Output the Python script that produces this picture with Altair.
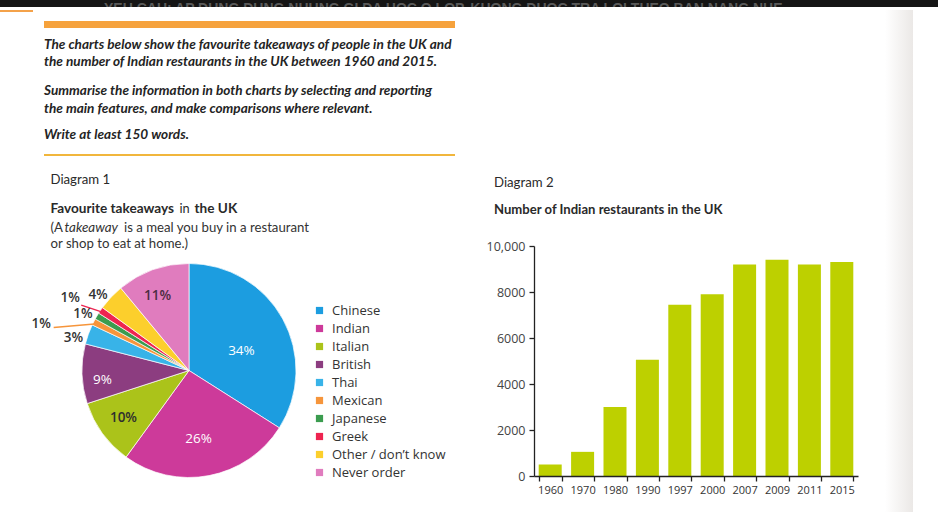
import altair as alt
import pandas as pd

# ---------------- data ----------------
takeaway_cats = ["Chinese", "Indian", "Italian", "British", "Thai", "Mexican",
                 "Japanese", "Greek", "Other / don’t know", "Never order"]
takeaway_share = [34, 26, 10, 9, 3, 1, 1, 1, 4, 11]
takeaway_colors = ["#1c9de0", "#cd3a9a", "#abc31a", "#8c3d80", "#38b3e8", "#f6953b",
                   "#3b9c4f", "#ee2450", "#fccf2c", "#e07cbe"]

years = ["1960", "1970", "1980", "1990", "1997", "2000", "2007", "2009", "2011", "2015"]
restaurants = [500, 1050, 3000, 5050, 7450, 7900, 9200, 9400, 9200, 9300]
y_ticks = [0, 2000, 4000, 6000, 8000, 10000]

# ---------------- layout (not data) ----------------
W, H = 938, 515
CX, CY, R = 189, 370.5, 107
# label radius, angular nudge (percent units), text colour, weight, leader gap
LABEL_LAYOUT = {
    "Chinese": (56, 2.3, "#ffffff", "normal", 0),
    "Indian": (69, 0.8, "#ffffff", "normal", 0),
    "Italian": (81, 0.0, "#2e2e2e", 600, 0),
    "British": (87, -1.25, "#ffffff", "normal", 0),
    "Thai": (120, -1.2, "#333333", 600, 0),
    "Mexican": (155, -2.6, "#333333", 600, 13),
    "Japanese": (120, -0.75, "#333333", 600, 0),
    "Greek": (139, -0.83, "#333333", 600, 13),
    "Other / don’t know": (118, -1.0, "#333333", 600, 0),
    "Never order": (81, -0.85, "#4a2c42", 600, 0),
}

pie_df = pd.DataFrame({
    "cat": takeaway_cats,
    "share": takeaway_share,
    "idx": list(range(len(takeaway_cats))),
})
pie_df["label"] = [f"{v}%" for v in takeaway_share]
pie_df["lr"] = [LABEL_LAYOUT[c][0] for c in takeaway_cats]
pie_df["nudge"] = [LABEL_LAYOUT[c][1] for c in takeaway_cats]
pie_df["lead"] = [LABEL_LAYOUT[c][4] for c in takeaway_cats]

bar_df = pd.DataFrame({"year": years, "count": restaurants})

HEAD_FONT = "Lato"
BODY_FONT = "Lato"


def txt(s, x, y, size=13.2, weight="normal", style="normal", color="#222222",
        font=BODY_FONT, align="left"):
    return alt.Chart().mark_text(
        text=s, align=align, baseline="alphabetic", font=font, fontSize=size,
        fontWeight=weight, fontStyle=style, color=color,
    ).encode(x=alt.value(x), y=alt.value(y))


def rect(x, x2, y, y2, color):
    return alt.Chart().mark_rect(color=color).encode(
        x=alt.value(x), x2=alt.value(x2), y=alt.value(y), y2=alt.value(y2))


layers = []

# top dark strip with cut-off banner text, then the page
layers.append(rect(0, W, 0, 8, "#151515"))
layers.append(txt("YEU CAU: AP DUNG DUNG NHUNG GI DA HOC O LOP, KHONG DUOC TRA LOI THEO BAN NANG NHE",
                  104, 12.5, size=14, weight="bold", color="#5a5a5a", font="Liberation Sans"))
layers.append(rect(0, W, 7, H, "#ffffff"))
layers.append(alt.Chart().mark_rect(color=alt.Gradient(
    gradient="linear", x1=0, x2=1, y1=0, y2=0,
    stops=[alt.GradientStop(color="#ffffff", offset=0),
           alt.GradientStop(color="#ebe8e6", offset=1)])).encode(
    x=alt.value(885), x2=alt.value(913), y=alt.value(10), y2=alt.value(512)))

# orange rules and header text
layers.append(rect(0, 33, 10, 12, "#f4a24a"))
layers.append(rect(44, 455, 21, 28, "#f6a23c"))
layers.append(rect(44, 455, 154, 156, "#f1b63c"))

head = dict(size=13.6, weight="bold", style="italic", color="#242424", font=HEAD_FONT)
layers.append(txt("The charts below show the favourite takeaways of people in the UK and", 44, 49, **head))
layers.append(txt("the number of Indian restaurants in the UK between 1960 and 2015.", 44, 65.5, **head))
layers.append(txt("Summarise the information in both charts by selecting and reporting", 44, 95, **head))
layers.append(txt("the main features, and make comparisons where relevant.", 44, 112.5, **head))
layers.append(txt("Write at least 150 words.", 44, 139, **head))

# diagram 1 titles
layers.append(txt("Diagram 1", 50.5, 184, color="#2a2a2a"))
layers.append(txt("Favourite takeaways", 50.5, 213, size=13.6, weight="bold", color="#2a2a2a"))
layers.append(txt("in", 179.5, 213, size=12.8, color="#2a2a2a"))
layers.append(txt("the UK", 194.5, 213, size=13.6, weight="bold", color="#2a2a2a"))
layers.append(txt("(A", 50.5, 231.5, color="#333333"))
layers.append(txt("takeaway", 64.5, 231.5, size=13.4, style="italic", color="#333333"))
layers.append(txt("is a meal you buy in a restaurant", 124, 231.5, color="#333333"))
layers.append(txt("or shop to eat at home.)", 50.5, 248, color="#333333"))

# diagram 2 titles
layers.append(txt("Diagram 2", 494, 187, color="#2a2a2a"))
layers.append(txt("Number of Indian restaurants in the UK", 494, 214, size=13.1, weight="bold",
                  color="#2a2a2a"))

# ---------------- pie ----------------
theta_scale = alt.Scale(domain=[0, 100])
pie = alt.Chart(pie_df).mark_arc(outerRadius=R, stroke="white", strokeWidth=0.7).encode(
    theta=alt.Theta("share:Q", stack=True, scale=theta_scale),
    color=alt.Color(
        "cat:N",
        sort=takeaway_cats,
        scale=alt.Scale(domain=takeaway_cats, range=takeaway_colors),
        legend=alt.Legend(
            orient="none", legendX=313, legendY=304, title=None,
            symbolType="square", symbolSize=52, symbolStrokeWidth=0, symbolOpacity=1,
            labelFont="Open Sans", labelFontSize=13, labelColor="#333333",
            rowPadding=4, labelOffset=6, padding=0,
        ),
    ),
    order=alt.Order("idx:Q"),
    x=alt.value(CX),
    y=alt.value(CY),
)
layers.append(pie)

lab_base = alt.Chart(pie_df).transform_window(
    cum="sum(share)", sort=[alt.SortField("idx", order="ascending")], frame=[None, 0]
).transform_calculate(
    midraw="datum.cum - datum.share / 2",
    mid="datum.cum - datum.share / 2 + datum.nudge",
)

# leader lines (drawn from slice to label, along the computed angles)
lead_colors = {"Mexican": "#f6953b", "Greek": "#ee2450"}
for cat, col in lead_colors.items():
    layers.append(
        lab_base.transform_filter(alt.datum.cat == cat).transform_calculate(
            a0="datum.midraw / 100 * 2 * PI",
            a1="datum.mid / 100 * 2 * PI",
            x0=f"{CX} + {R - 4} * sin(datum.a0)",
            y0=f"{CY} - {R - 4} * cos(datum.a0)",
            x1=f"{CX} + (datum.lr - datum.lead) * sin(datum.a1)",
            y1=f"{CY} - (datum.lr - datum.lead) * cos(datum.a1)",
        ).mark_rule(color=col, strokeWidth=1.4).encode(
            x=alt.X("x0:Q", scale=None, axis=None),
            y=alt.Y("y0:Q", scale=None, axis=None),
            x2="x1:Q",
            y2="y1:Q",
        )
    )

for cat in takeaway_cats:
    _, _, tcol, tw, _ = LABEL_LAYOUT[cat]
    layers.append(
        lab_base.transform_filter(alt.datum.cat == cat).mark_text(
            font="Open Sans", fontSize=13.5, fontWeight=tw, color=tcol,
            align="center", baseline="middle",
        ).encode(
            theta=alt.Theta("mid:Q", stack=False, scale=theta_scale),
            radius=alt.Radius("lr:Q", scale=None),
            text="label:N",
            x=alt.value(CX),
            y=alt.value(CY),
        )
    )

# ---------------- bars ----------------
AX_X0, AX_X1 = 534, 858
AX_Y0, AX_Y1 = 476, 246
bars = alt.Chart(bar_df).mark_bar(color="#bdd000").encode(
    x=alt.X(
        "year:N",
        sort=years,
        scale=alt.Scale(domain=years, range=[AX_X0, AX_X1], paddingInner=0.29, paddingOuter=0.145),
        axis=alt.Axis(
            title=None, orient="bottom", offset=AX_Y0 - H, labelAngle=0, tickBand="extent",
            domainColor="#222222", domainWidth=1.3, tickColor="#222222", tickWidth=1.3,
            tickSize=5, labelFont="Open Sans", labelFontSize=11, labelColor="#333333",
            labelPadding=3, grid=False, zindex=1,
        ),
    ),
    y=alt.Y(
        "count:Q",
        scale=alt.Scale(domain=[0, 10000], range=[AX_Y0, AX_Y1], nice=False, zero=True),
        axis=alt.Axis(
            title=None, orient="left", offset=-AX_X0, values=y_ticks, format="d",
            labelExpr="datum.value >= 10000 ? '10,000' : datum.label",
            domainColor="#222222", domainWidth=1.3, tickColor="#222222", tickWidth=1.3,
            tickSize=5, labelFont="Open Sans", labelFontSize=12.5, labelColor="#444444",
            labelPadding=4, grid=False, zindex=1,
        ),
    ),
)
layers.append(bars)

chart = alt.layer(*layers).resolve_scale(
    x="independent", y="independent"
).properties(
    width=W, height=H, autosize=alt.AutoSizeParams(type="none"), padding=0,
    background="white",
).configure_view(strokeWidth=0)

chart.save("out.html", embed_options={"renderer": "svg", "actions": False})
